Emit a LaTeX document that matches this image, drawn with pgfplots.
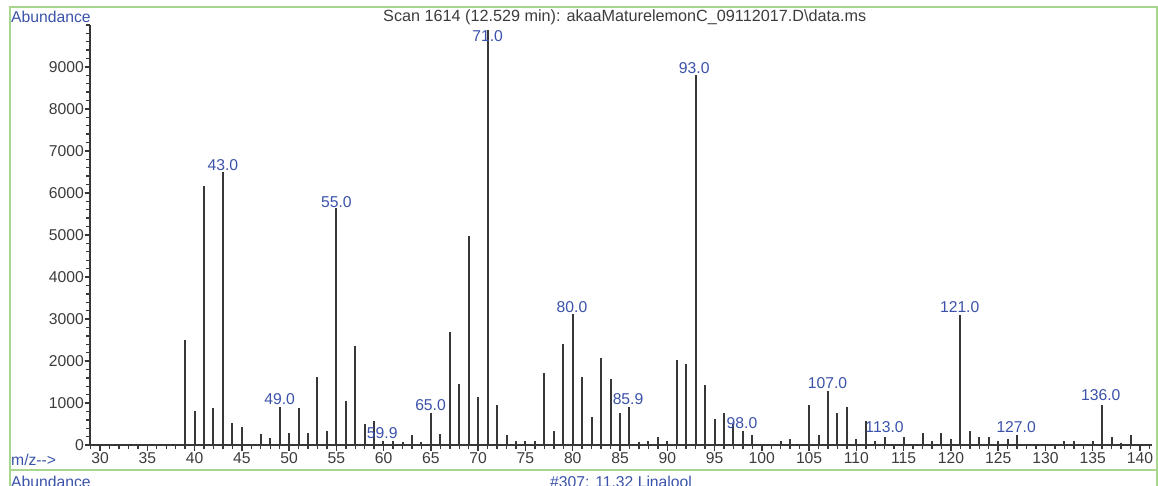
\documentclass[border=0pt]{standalone}
\usepackage{pgfplots}
\pgfplotsset{compat=1.18}
\usepackage{fontspec}
\setmainfont{Liberation Sans}
\definecolor{lblue}{RGB}{58,82,170}
\definecolor{dgray}{RGB}{55,55,55}
\definecolor{tgray}{RGB}{60,60,60}
\definecolor{fgreen}{RGB}{168,214,140}
\newcommand{\fs}{\fontsize{15.7}{18}\selectfont}
\begin{document}
\begin{tikzpicture}
\path[use as bounding box] (0pt,0pt) rectangle (1158pt,485pt);
\draw[fgreen, line width=2pt] (9.5pt,-5pt) -- (9.5pt,478.3pt) -- (1156.5pt,478.3pt) -- (1156.5pt,-5pt);
\draw[fgreen, line width=2pt] (9.5pt,15pt) -- (1156.5pt,15pt);
\node[anchor=west, inner sep=0, text=lblue, font=\fs] at (11pt,468pt) {Abundance};
\node[anchor=west, inner sep=0, text=tgray, font=\fontsize{16.2}{19}\selectfont] at (383pt,468pt) {Scan 1614 (12.529 min): akaaMaturelemonC\_09112017.D\textbackslash data.ms};
\node[anchor=west, inner sep=0, text=lblue, font=\fs] at (11pt,25pt) {m/z-{}-{}>};
\node[anchor=west, inner sep=0, text=lblue, font=\fs] at (11pt,3pt) {Abundance};
\node[anchor=west, inner sep=0, text=lblue, font=\fs] at (550pt,3pt) {\#307: 11.32 Linalool};
\begin{axis}[
  at={(90pt,40pt)}, anchor=south west, scale only axis,
  width=1062pt, height=420pt,
  xmin=28.94, xmax=141.27, ymin=0, ymax=10000,
  axis lines*=left,
  axis line style={dgray, line width=1.6pt},
  clip=false,
  scaled ticks=false,
  xtick={30,35,...,140},
  minor xtick={29,...,141},
  ytick={0,1000,...,9000},
  minor ytick={0,200,...,10000},
  tick align=outside,
  major tick length=5.5pt, minor tick length=3.8pt,
  tick style={dgray, line width=1.4pt},
  ticklabel style={font=\fs, text=tgray},
  /pgf/number format/assume math mode=true,
  /pgf/number format/1000 sep={},
  xticklabel style={inner sep=2pt},
  yticklabel style={inner sep=0.5pt},
]
\addplot[ycomb, no marks, dgray, line width=2pt] coordinates {
(39,2490) (40,820) (41,6165) (42,875) (43,6500) (44,533) (45,438)
(47,255) (48,160) (49,915) (50,295) (51,875) (52,295) (53,1630)
(54,342) (55,5640) (56,1058) (57,2347) (58,493) (59,580) (59.9,90)
(61,100) (62,80) (63,240) (64,80) (65,772) (66,255) (67,2680)
(68,1448) (69,4970) (70,1153) (71,9870) (72,963) (73,245) (74,90)
(75,90) (76,90) (77,1726) (78,342) (79,2395) (80,3110) (81,1630)
(82,676) (83,2060) (84,1583) (85,772) (85.9,915) (87,80) (88,90)
(89,190) (90,90) (91,2013) (92,1917) (93,8810) (94,1440) (95,628)
(96,772) (97,500) (98,342) (99,250) (102,88) (103,150) (105,960)
(106,240) (107,1290) (108,764) (109,900) (110,135) (111,560)
(112,88) (113,183) (115,183) (117,286) (118,88) (119,286) (120,143)
(121,3100) (122,326) (123,183) (124,183) (125,88) (126,135) (127,240)
(132,88) (133,88) (135,88) (136,955) (137,183) (138,56) (139,240)
};
\begin{scope}[every node/.style={text=lblue, font=\fs, inner sep=0}]
\node at (axis cs:43,6667) {43.0};
\node at (axis cs:49,1088) {49.0};
\node at (axis cs:55,5793) {55.0};
\node at (axis cs:59.85,286) {59.9};
\node at (axis cs:64.96,952) {65.0};
\node at (axis cs:71,9738) {71.0};
\node at (axis cs:79.92,3293) {80.0};
\node at (axis cs:85.85,1095) {85.9};
\node at (axis cs:92.85,8976) {93.0};
\node at (axis cs:97.9,524) {98.0};
\node at (axis cs:106.95,1476) {107.0};
\node at (axis cs:112.98,436) {113.0};
\node at (axis cs:120.93,3293) {121.0};
\node at (axis cs:126.9,436) {127.0};
\node at (axis cs:135.85,1190) {136.0};
\end{scope}
\end{axis}
\end{tikzpicture}
\end{document}
